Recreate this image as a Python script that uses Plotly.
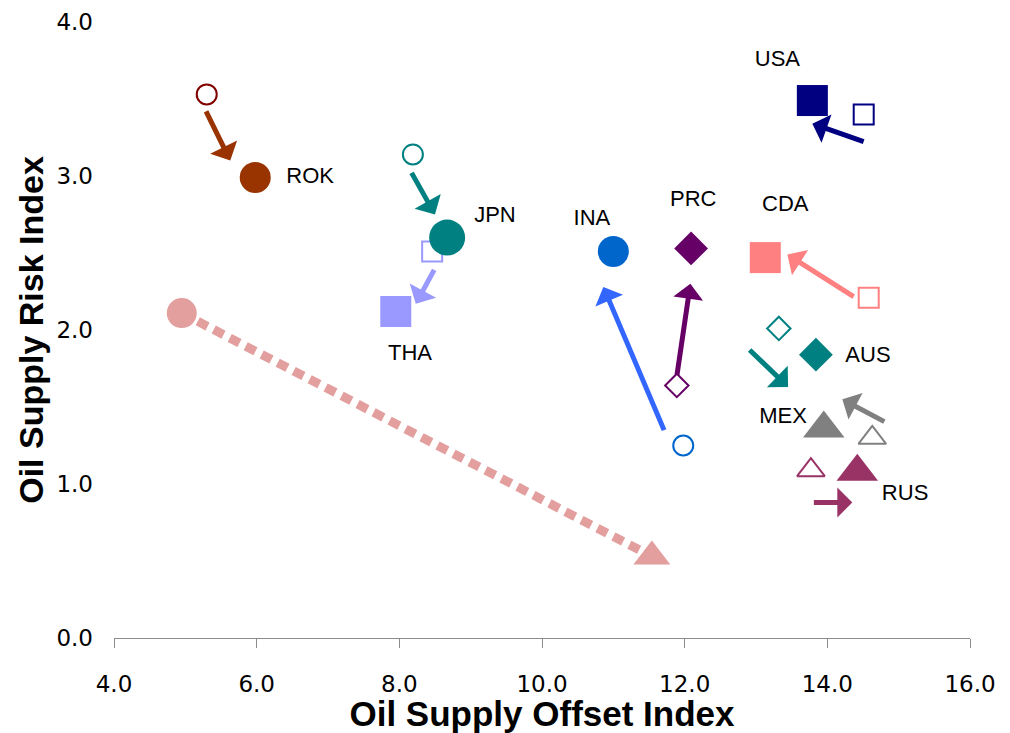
import plotly.graph_objects as go

# ---------------- data ----------------
countries = ["ROK", "JPN", "THA", "INA", "PRC", "USA", "CDA", "AUS", "MEX", "RUS"]

# earlier position (open markers)
x_before = [5.30, 8.19, 8.46, 11.98, 11.89, 14.51, 14.58, 13.32, 14.63, 13.77]
y_before = [3.53, 3.14, 2.51, 1.25, 1.64, 3.40, 2.21, 2.01, 1.30, 1.09]

# later position (filled markers)
x_after = [5.98, 8.67, 7.95, 11.00, 12.09, 13.79, 13.13, 13.84, 13.95, 14.42]
y_after = [2.99, 2.60, 2.12, 2.51, 2.53, 3.49, 2.47, 1.84, 1.36, 1.08]

shapes = ["circle", "circle", "square", "circle", "diamond", "square", "square", "diamond", "triangle-up", "triangle-up"]
colors = ["#993300", "#008080", "#9999FF", "#0066CC", "#660066", "#000080", "#FF8080", "#008080", "#808080", "#993366"]
open_colors = ["#800000", "#008080", "#9999FF", "#0066CC", "#660066", "#000080", "#FF8080", "#008080", "#808080", "#993366"]
arrow_colors = ["#993300", "#008080", "#9999FF", "#3366FF", "#660066", "#000080", "#FF8080", "#008080", "#808080", "#993366"]
filled_sizes = [31, 36, 31, 31, 26, 31, 31, 26, 36, 36]
open_sizes = [20, 20, 20, 20, 18, 20, 20, 18, 24, 24]

# arrows (tail -> tip)
arrow_x0 = [5.28, 8.16, 8.50, 11.72, 11.89, 14.53, 14.39, 12.89, 14.82, 13.79]
arrow_y0 = [3.43, 3.03, 2.40, 1.34, 1.70, 3.22, 2.21, 1.88, 1.40, 0.88]
arrow_x1 = [5.63, 8.50, 8.23, 10.86, 12.08, 13.79, 13.44, 13.45, 14.21, 14.35]
arrow_y1 = [3.10, 2.75, 2.17, 2.28, 2.30, 3.34, 2.49, 1.63, 1.55, 0.88]

# labels
label_x = [6.75, 9.34, 8.15, 10.70, 12.12, 13.30, 13.41, 14.57, 13.38, 15.09]
label_y = [2.99, 2.74, 1.84, 2.72, 2.84, 3.75, 2.81, 1.83, 1.43, 0.93]

# overall path (dotted)
path_x = [4.95, 11.54]
path_y = [2.11, 0.53]
path_color = "#E39E9E"

x_ticks = [4, 6, 8, 10, 12, 14, 16]
y_ticks = [0, 1, 2, 3, 4]

# ---------------- figure ----------------
fig = go.Figure()

fig.add_trace(go.Scatter(
    x=path_x, y=path_y, mode="lines",
    line=dict(color=path_color, width=9, dash="11px,7px"),
    hoverinfo="skip", showlegend=False, cliponaxis=False))
fig.add_trace(go.Scatter(
    x=path_x, y=path_y, mode="markers",
    marker=dict(symbol=["circle", "triangle-up"], size=[30, 32], color=path_color,
                opacity=1, line=dict(width=0)),
    hoverinfo="skip", showlegend=False, cliponaxis=False))

fig.add_trace(go.Scatter(
    x=x_before, y=y_before, mode="markers",
    marker=dict(symbol=[s + "-open" for s in shapes], size=open_sizes, opacity=1,
                color=open_colors, line=dict(width=2, color=open_colors)),
    showlegend=False, cliponaxis=False))

fig.add_trace(go.Scatter(
    x=x_after, y=y_after, mode="markers",
    marker=dict(symbol=shapes, size=filled_sizes, color=colors, opacity=1,
                line=dict(width=0)),
    showlegend=False, cliponaxis=False))

fig.add_trace(go.Scatter(
    x=label_x, y=label_y, mode="text", text=countries,
    textfont=dict(family="Liberation Sans, Arial", size=22, color="black"),
    textposition="middle center", showlegend=False, cliponaxis=False))

for i in range(len(countries)):
    fig.add_annotation(
        x=arrow_x1[i], y=arrow_y1[i], ax=arrow_x0[i], ay=arrow_y0[i],
        xref="x", yref="y", axref="x", ayref="y",
        text="", showarrow=True, arrowhead=1, arrowsize=1.0, arrowwidth=5,
        arrowcolor=arrow_colors[i], standoff=0, startstandoff=0)

fig.update_layout(
    width=1002, height=725,
    margin=dict(l=106, r=40, t=14, b=95, pad=0, autoexpand=False),
    paper_bgcolor="white", plot_bgcolor="white",
    showlegend=False,
    xaxis=dict(
        range=[4, 16], tickvals=x_ticks, tickformat=".1f",
        showgrid=False, zeroline=False, automargin=False,
        showline=True, linecolor="#8c8c8c", linewidth=1,
        ticks="outside", ticklen=9, tickcolor="#8c8c8c",
        ticklabelstandoff=16,
        tickfont=dict(family="DejaVu Sans", size=23, color="black"),
        title=dict(text="<b>Oil Supply Offset Index</b>", standoff=0,
                   font=dict(family="Liberation Sans, Arial", size=35, color="black")),
    ),
    yaxis=dict(
        range=[0, 4], tickvals=y_ticks, tickformat=".1f",
        showgrid=False, zeroline=False, showline=False, automargin=False,
        ticks="", ticklabelstandoff=20,
        tickfont=dict(family="DejaVu Sans", size=23, color="black"),
        title=dict(text="<b>Oil Supply Risk Index</b>", standoff=2,
                   font=dict(family="Liberation Sans, Arial", size=34, color="black")),
    ),
)

fig.write_html("out.html")
